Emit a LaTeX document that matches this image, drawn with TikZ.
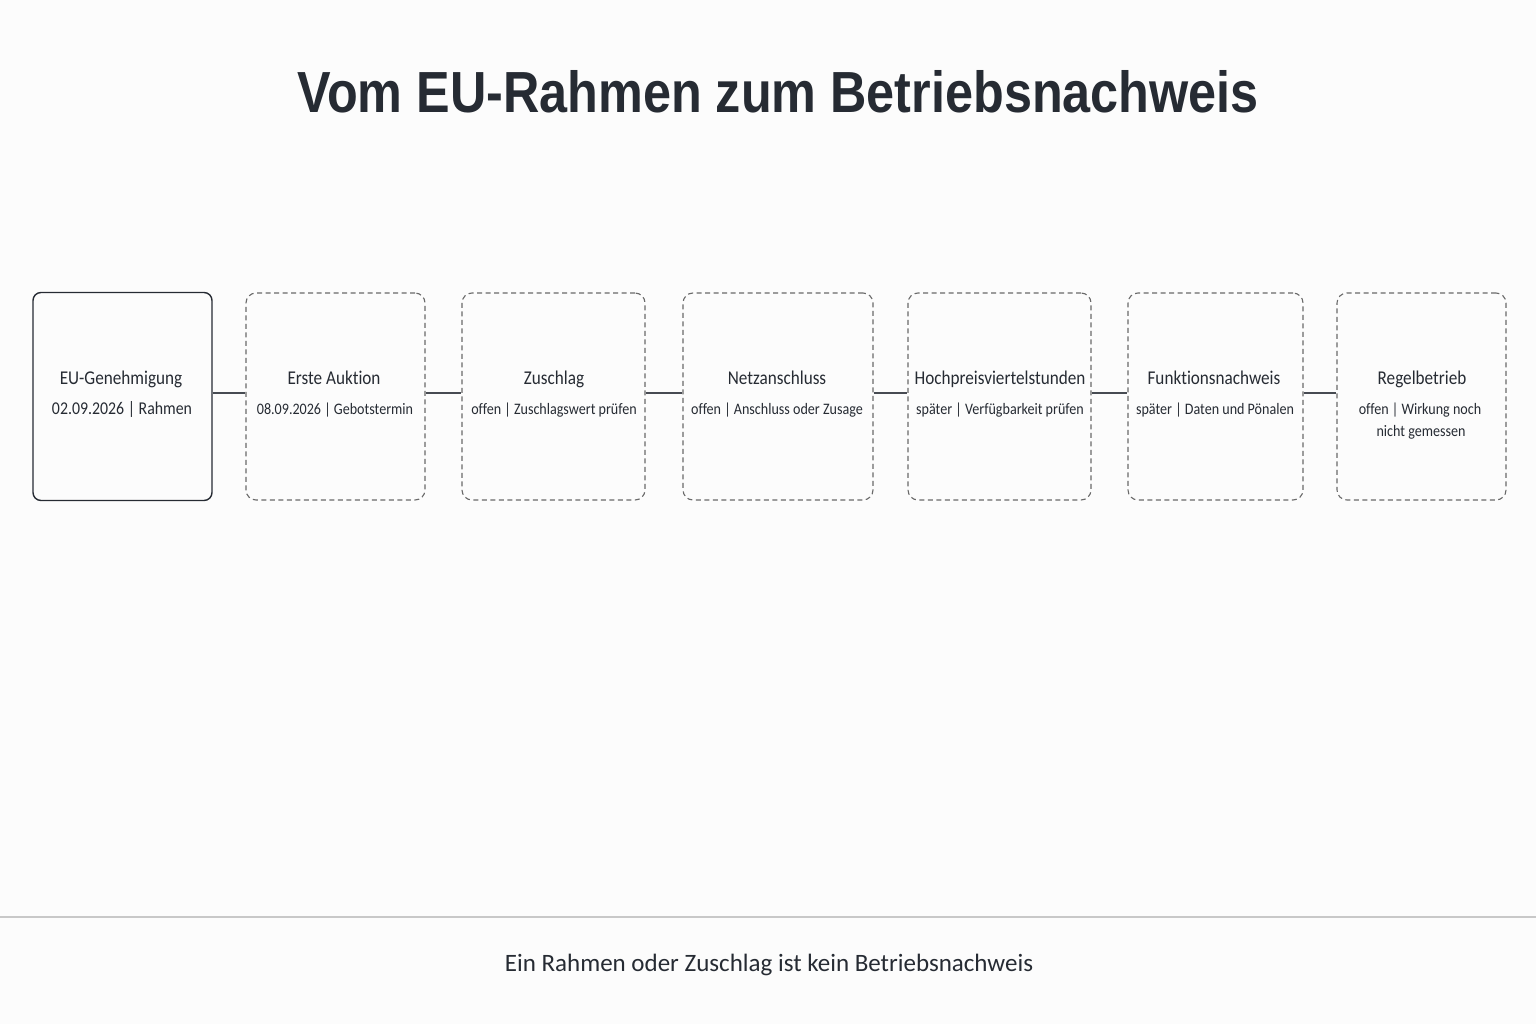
\documentclass[tikz,border=0pt]{standalone}
\usepackage{fontspec}
\setmainfont{Carlito}[Ligatures=NoCommon]
\newfontfamily\boxfont[FakeStretch=0.88, Ligatures=NoCommon]{Carlito}
\newfontfamily\titlefont[FakeStretch=0.868]{Liberation Sans Bold}
\definecolor{ink}{HTML}{262B33}
\definecolor{dashgray}{HTML}{6A6A6A}
\definecolor{bg}{HTML}{FCFCFC}
\definecolor{rule}{HTML}{C8C8C8}
\begin{document}
\begin{tikzpicture}[x=1pt,y=-1pt,
  stagebox/.style={draw=ink, line width=1.4pt, rounded corners=8pt, minimum height=208pt, inner sep=0pt},
  openbox/.style={draw=dashgray, line width=1.1pt, dash pattern=on 5pt off 3.5pt, rounded corners=10pt, minimum height=207pt, inner sep=0pt},
  headtxt/.style={font=\boxfont\fontsize{19.5}{22}\selectfont, text=ink, inner sep=0pt, anchor=base},
  subtxt/.style={font=\boxfont\fontsize{16}{22}\selectfont, text=ink, inner sep=0pt, align=center, anchor=base},
  link/.style={draw=ink!85, line width=1.2pt}]
\fill[bg] (0,0) rectangle (1536,1024);
\useasboundingbox (0,0) rectangle (1536,1024);
\node[font=\titlefont\fontsize{58}{64}\selectfont, text=ink] (title) at (778,92) {Vom EU-Rahmen zum Betriebsnachweis};
% boxes
\node[stagebox, minimum width=179pt] (b1) at (122.5,396.5) {};
\node[openbox, minimum width=179pt] (b2) at (335.5,396.5) {};
\node[openbox, minimum width=183pt] (b3) at (553.5,396.5) {};
\node[openbox, minimum width=190pt] (b4) at (778,396.5) {};
\node[openbox, minimum width=183pt] (b5) at (999.5,396.5) {};
\node[openbox, minimum width=175pt] (b6) at (1215.5,396.5) {};
\node[openbox, minimum width=169pt] (b7) at (1421.5,396.5) {};
% texts
\node[headtxt] (h1) at (121,384) {EU-Genehmigung};
\node[subtxt, font=\boxfont\fontsize{18}{22}\selectfont] (s1) at (122,414) {02.09.2026 | Rahmen};
\node[headtxt] (h2) at (334,384) {Erste Auktion};
\node[subtxt] (s2) at (335,414) {08.09.2026 | Gebotstermin};
\node[headtxt] (h3) at (554,384) {Zuschlag};
\node[subtxt] (s3) at (554,414) {offen | Zuschlagswert prüfen};
\node[headtxt] (h4) at (777,384) {Netzanschluss};
\node[subtxt] (s4) at (777,414) {offen | Anschluss oder Zusage};
\node[headtxt] (h5) at (1000,384) {Hochpreisviertelstunden};
\node[subtxt] (s5) at (1000,414) {später | Verfügbarkeit prüfen};
\node[headtxt] (h6) at (1214,384) {Funktionsnachweis};
\node[subtxt] (s6) at (1215,414) {später | Daten und Pönalen};
\node[headtxt] (h7) at (1422,384) {Regelbetrieb};
\node[subtxt] (s7a) at (1420,414) {offen | Wirkung noch};
\node[subtxt] (s7b) at (1421,436) {nicht gemessen};
% connectors
\foreach \a/\b in {b1/b2,b2/b3,b3/b4,b4/b5,b5/b6,b6/b7}
  \draw[link] ([yshift=3.5pt]\a.east) -- ([yshift=3.5pt]\b.west);
% footer
\coordinate (rl) at (0,917);
\coordinate (rr) at (1536,917);
\draw[rule, line width=1.5pt] (rl) -- (rr);
\node[font=\fontsize{25}{30}\selectfont, text=ink] (foot) at (769,965) {Ein Rahmen oder Zuschlag ist kein Betriebsnachweis};
\end{tikzpicture}
\end{document}
